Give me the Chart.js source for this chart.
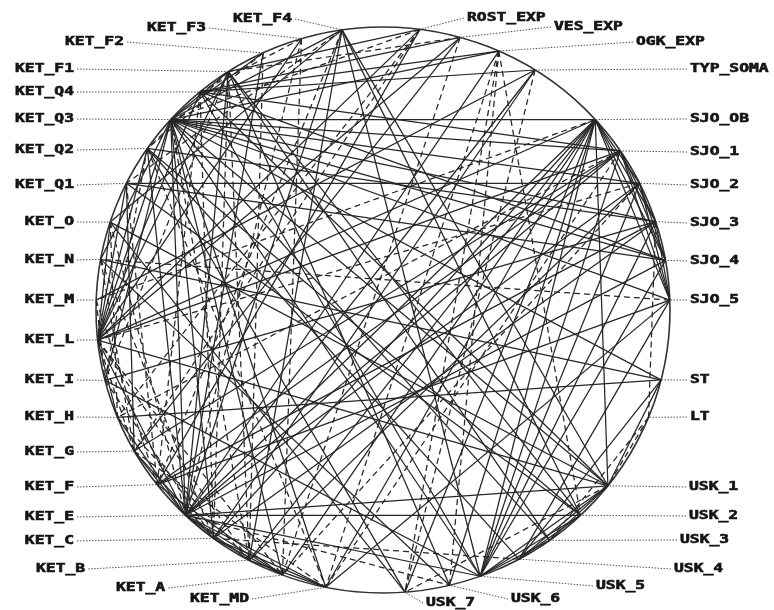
<!DOCTYPE html>
<html><head><meta charset="utf-8">
<script src="https://cdn.jsdelivr.net/npm/chart.js@4/dist/chart.umd.min.js"></script>
<style>html,body{margin:0;padding:0;background:#fff}canvas{display:block}</style>
</head><body>
<canvas id="c" width="774" height="610"></canvas>
<script>
// ---- data: nodes (variables) and their angular position on the circle (degrees, CCW from east)
const NODES = ["KET_F4","KET_F3","KET_F2","KET_F1","KET_Q4","KET_Q3","KET_Q2","KET_Q1","KET_O","KET_N","KET_M","KET_L","KET_I","KET_H","KET_G","KET_F","KET_E","KET_C","KET_B","KET_A","KET_MD","USK_7","USK_6","USK_5","USK_4","USK_3","USK_2","USK_1","LT","ST","SJO_5","SJO_4","SJO_3","SJO_2","SJO_1","SJO_OB","TYP_SOMA","OGK_EXP","VES_EXP","ROST_EXP"];
const ANGLES = [98.2,106.5,114.7,122.6,129.6,137.7,145.2,153.4,161.9,169.7,178.0,186.1,194.4,202.3,209.9,218.1,226.5,233.8,242.2,249.5,258.5,274.4,283.4,289.8,298.3,305.5,313.5,321.6,337.7,345.7,2.0,10.1,18.2,26.6,34.2,42.3,58.0,66.2,74.4,82.6];

// strong links (solid)
const SOLID_EDGES = [
["KET_Q3","SJO_OB"],["KET_Q3","SJO_1"],["KET_Q3","SJO_2"],["KET_Q3","SJO_3"],["KET_Q3","SJO_4"],["KET_Q3","SJO_5"],["KET_Q3","ST"],["KET_Q3","USK_1"],["KET_Q3","USK_5"],["KET_Q3","KET_E"],["KET_Q3","KET_C"],["KET_Q3","KET_A"],["KET_Q3","KET_MD"],["KET_Q3","KET_F4"],["KET_Q3","OGK_EXP"],["KET_Q3","KET_F1"],["KET_Q3","KET_F2"],["KET_Q3","KET_L"],["KET_Q3","KET_I"],["KET_Q3","USK_3"],
["KET_Q1","SJO_2"],["KET_Q1","KET_G"],["KET_Q1","SJO_4"],["KET_Q1","USK_2"],
["KET_Q2","SJO_3"],["KET_Q2","USK_4"],["KET_Q2","KET_E"],
["KET_Q4","VES_EXP"],["KET_Q4","TYP_SOMA"],["KET_Q4","USK_1"],["KET_Q4","USK_5"],["KET_Q4","KET_L"],["KET_Q4","SJO_1"],
["KET_F1","USK_2"],["KET_F1","KET_E"],["KET_F1","KET_L"],["KET_F1","ROST_EXP"],["KET_F1","USK_6"],
["KET_F2","KET_E"],["KET_F3","KET_L"],
["KET_F4","USK_1"],["KET_F4","USK_2"],["KET_F4","KET_E"],["KET_F4","KET_B"],["KET_F4","USK_5"],["KET_F4","KET_O"],
["ROST_EXP","KET_L"],["ROST_EXP","KET_F"],["VES_EXP","KET_L"],["VES_EXP","KET_G"],
["OGK_EXP","KET_Q4"],["OGK_EXP","KET_E"],["TYP_SOMA","KET_M"],["TYP_SOMA","KET_E"],["TYP_SOMA","KET_C"],
["SJO_OB","KET_L"],["SJO_OB","USK_1"],["SJO_OB","KET_E"],["SJO_OB","KET_C"],["SJO_OB","KET_B"],["SJO_OB","KET_A"],["SJO_OB","KET_MD"],["SJO_OB","USK_7"],["SJO_OB","USK_6"],["SJO_OB","USK_5"],["SJO_OB","SJO_2"],["SJO_OB","SJO_3"],["SJO_OB","SJO_4"],["SJO_OB","SJO_5"],
["SJO_1","KET_L"],["SJO_1","KET_F"],["SJO_1","USK_5"],["SJO_1","KET_E"],["SJO_1","SJO_3"],["SJO_1","SJO_4"],["SJO_1","SJO_5"],["SJO_1","KET_G"],
["SJO_2","USK_5"],["SJO_2","KET_E"],["SJO_2","KET_B"],["SJO_2","SJO_4"],["SJO_2","SJO_5"],
["SJO_3","USK_5"],["SJO_3","KET_C"],["SJO_3","KET_I"],["SJO_3","SJO_5"],["SJO_3","KET_F"],
["SJO_4","USK_5"],["SJO_4","KET_E"],["SJO_4","KET_Q4"],
["SJO_5","KET_F"],["SJO_5","KET_MD"],["SJO_5","USK_4"],
["ST","KET_N"],["ST","USK_4"],["ST","KET_H"],
["USK_1","KET_E"],["USK_1","KET_L"],["USK_1","USK_4"],["USK_1","USK_5"],["USK_1","USK_3"],["USK_1","KET_O"],["USK_1","ST"],
["USK_2","KET_E"],["USK_2","USK_5"],["USK_2","USK_4"],["USK_2","KET_Q2"],
["USK_3","USK_5"],["USK_3","KET_F1"],["USK_5","KET_E"],["USK_5","KET_I"],["USK_6","KET_N"],["USK_7","KET_Q2"],["USK_7","KET_O"],
["KET_E","KET_C"],["KET_E","KET_B"],["KET_E","KET_A"],["KET_E","KET_MD"],["KET_C","KET_MD"],["KET_F","KET_A"],["KET_E","KET_G"],["KET_E","KET_H"],["KET_E","KET_L"],["KET_C","KET_A"],["KET_B","KET_MD"],
["KET_L","KET_O"],["KET_L","KET_Q1"],["KET_L","KET_Q2"],["KET_N","KET_Q3"],["KET_L","KET_H"],["KET_G","KET_C"]
];

// weaker links (dashed)
const DASHED_EDGES = [
["SJO_OB","KET_M"],["SJO_2","KET_L"],["OGK_EXP","USK_7"],["OGK_EXP","USK_6"],["OGK_EXP","KET_MD"],["OGK_EXP","USK_2"],["ROST_EXP","KET_H"],["ROST_EXP","KET_G"],["VES_EXP","KET_A"],
["KET_F3","KET_A"],["KET_F2","KET_B"],["KET_F1","KET_C"],["KET_F1","KET_B"],["KET_F1","KET_Q2"],["KET_F1","KET_I"],["KET_F2","KET_Q2"],["KET_F3","KET_Q4"],["KET_F3","KET_E"],["KET_F4","KET_F"],
["KET_Q4","KET_C"],["KET_Q4","KET_F"],["KET_Q3","KET_B"],["KET_Q2","KET_MD"],["KET_O","KET_E"],["KET_N","KET_C"],["KET_L","KET_B"],["KET_L","KET_A"],["KET_L","KET_G"],["KET_M","KET_F"],["KET_I","KET_C"],["KET_H","KET_B"],["KET_G","KET_MD"],
["LT","SJO_3"],["LT","USK_1"],["LT","USK_3"],["USK_1","USK_7"],["KET_E","USK_6"],["KET_C","USK_4"],["TYP_SOMA","USK_7"],["SJO_5","KET_N"],["KET_F4","KET_Q1"],["SJO_1","KET_MD"],["SJO_2","KET_A"],["SJO_1","KET_H"],["ROST_EXP","KET_Q3"],["VES_EXP","KET_F1"],["KET_O","KET_H"],["KET_N","KET_G"],["KET_M","KET_I"],["KET_Q2","KET_I"],["KET_Q1","KET_F"]
];

// ---- layout (label anchors in page pixels, alignment) ----
const LABEL_LAYOUT = {
 KET_F4:[233,19,"l"],KET_F3:[147,28,"l"],KET_F2:[65,42,"l"],KET_F1:[74,69,"r"],KET_Q4:[74,92,"r"],KET_Q3:[74,119,"r"],KET_Q2:[74,150,"r"],KET_Q1:[74,185,"r"],
 KET_O:[74,222,"r"],KET_N:[74,260,"r"],KET_M:[74,300,"r"],KET_L:[74,340,"r"],KET_I:[74,380,"r"],KET_H:[74,417,"r"],KET_G:[74,452,"r"],KET_F:[74,487,"r"],KET_E:[74,517,"r"],KET_C:[74,541,"r"],
 KET_B:[36,569,"l"],KET_A:[116,588,"l"],KET_MD:[190,599,"l"],
 USK_7:[426,603,"l"],USK_6:[511,599,"l"],USK_5:[596,586,"l"],USK_4:[674,569,"l"],USK_3:[680,540,"l"],USK_2:[689,516,"l"],USK_1:[689,487,"l"],
 LT:[690,417,"l"],ST:[690,380,"l"],SJO_5:[690,300,"l"],SJO_4:[690,261,"l"],SJO_3:[690,223,"l"],SJO_2:[690,185,"l"],SJO_1:[690,152,"l"],SJO_OB:[690,119,"l"],
 TYP_SOMA:[690,69,"l"],OGK_EXP:[636,42,"l"],VES_EXP:[554,27,"l"],ROST_EXP:[467,18,"l"]
};
const LINE_COLOR = "#262626";
const SX = 1.36; // horizontal stretch of label glyphs

function nodePoint(name){
  const i = NODES.indexOf(name);
  const a = ANGLES[i]*Math.PI/180;
  return {x: Math.cos(a), y: Math.sin(a)};
}

const datasets = [];
SOLID_EDGES.forEach(e=>datasets.push({data:[nodePoint(e[0]),nodePoint(e[1])],showLine:true,borderColor:LINE_COLOR,borderWidth:1.25,pointRadius:0,fill:false}));
DASHED_EDGES.forEach(e=>datasets.push({data:[nodePoint(e[0]),nodePoint(e[1])],showLine:true,borderColor:LINE_COLOR,borderWidth:1.25,borderDash:[6,4],pointRadius:0,fill:false}));

const circlePlugin = {
  id:'circle',
  beforeDatasetsDraw(chart){
    const {ctx,scales:{x,y}} = chart;
    const cx=x.getPixelForValue(0), cy=y.getPixelForValue(0);
    const rx=x.getPixelForValue(1)-cx, ry=cy-y.getPixelForValue(1);
    ctx.save();
    ctx.strokeStyle="#333"; ctx.lineWidth=1.6;
    ctx.beginPath(); ctx.ellipse(cx,cy,rx,ry,0,0,Math.PI*2); ctx.stroke();
    ctx.restore();
  }
};

const labelPlugin = {
  id:'labels',
  afterDatasetsDraw(chart){
    const {ctx,scales:{x,y}} = chart;
    ctx.save();
    ctx.font='bold 12px "DejaVu Sans Mono"';
    ctx.textBaseline='middle';
    NODES.forEach(name=>{
      const L = LABEL_LAYOUT[name];
      const p = nodePoint(name);
      const px = x.getPixelForValue(p.x), py = y.getPixelForValue(p.y);
      const w = ctx.measureText(name).width*SX;
      const left = L[2]==="r" ? L[0]-w : L[0];
      let ax, ay=L[1];
      if (L[2]==="r") ax = left+w+3;
      else if (px < left) ax = left-3;
      else ax = left+w+3;
      ctx.save();
      ctx.strokeStyle="#555"; ctx.lineWidth=1; ctx.setLineDash([1.5,1.5]);
      ctx.beginPath(); ctx.moveTo(ax,ay); ctx.lineTo(px,py); ctx.stroke();
      ctx.restore();
      ctx.save();
      ctx.translate(left,L[1]); ctx.scale(SX,1);
      ctx.fillStyle="#151515"; ctx.strokeStyle="#151515"; ctx.lineWidth=0.6;
      ctx.fillText(name,0,0); ctx.strokeText(name,0,0);
      ctx.restore();
    });
    ctx.restore();
  }
};

new Chart(document.getElementById('c'),{
  type:'scatter',
  data:{datasets},
  options:{
    responsive:false, animation:false, devicePixelRatio:1,
    layout:{padding:0},
    plugins:{legend:{display:false},tooltip:{enabled:false}},
    scales:{
      x:{type:'linear',display:false,min:-1.3345,max:1.3624},
      y:{type:'linear',display:false,min:-1.0601,max:1.0954}
    }
  },
  plugins:[circlePlugin,labelPlugin]
});
</script>
</body></html>
